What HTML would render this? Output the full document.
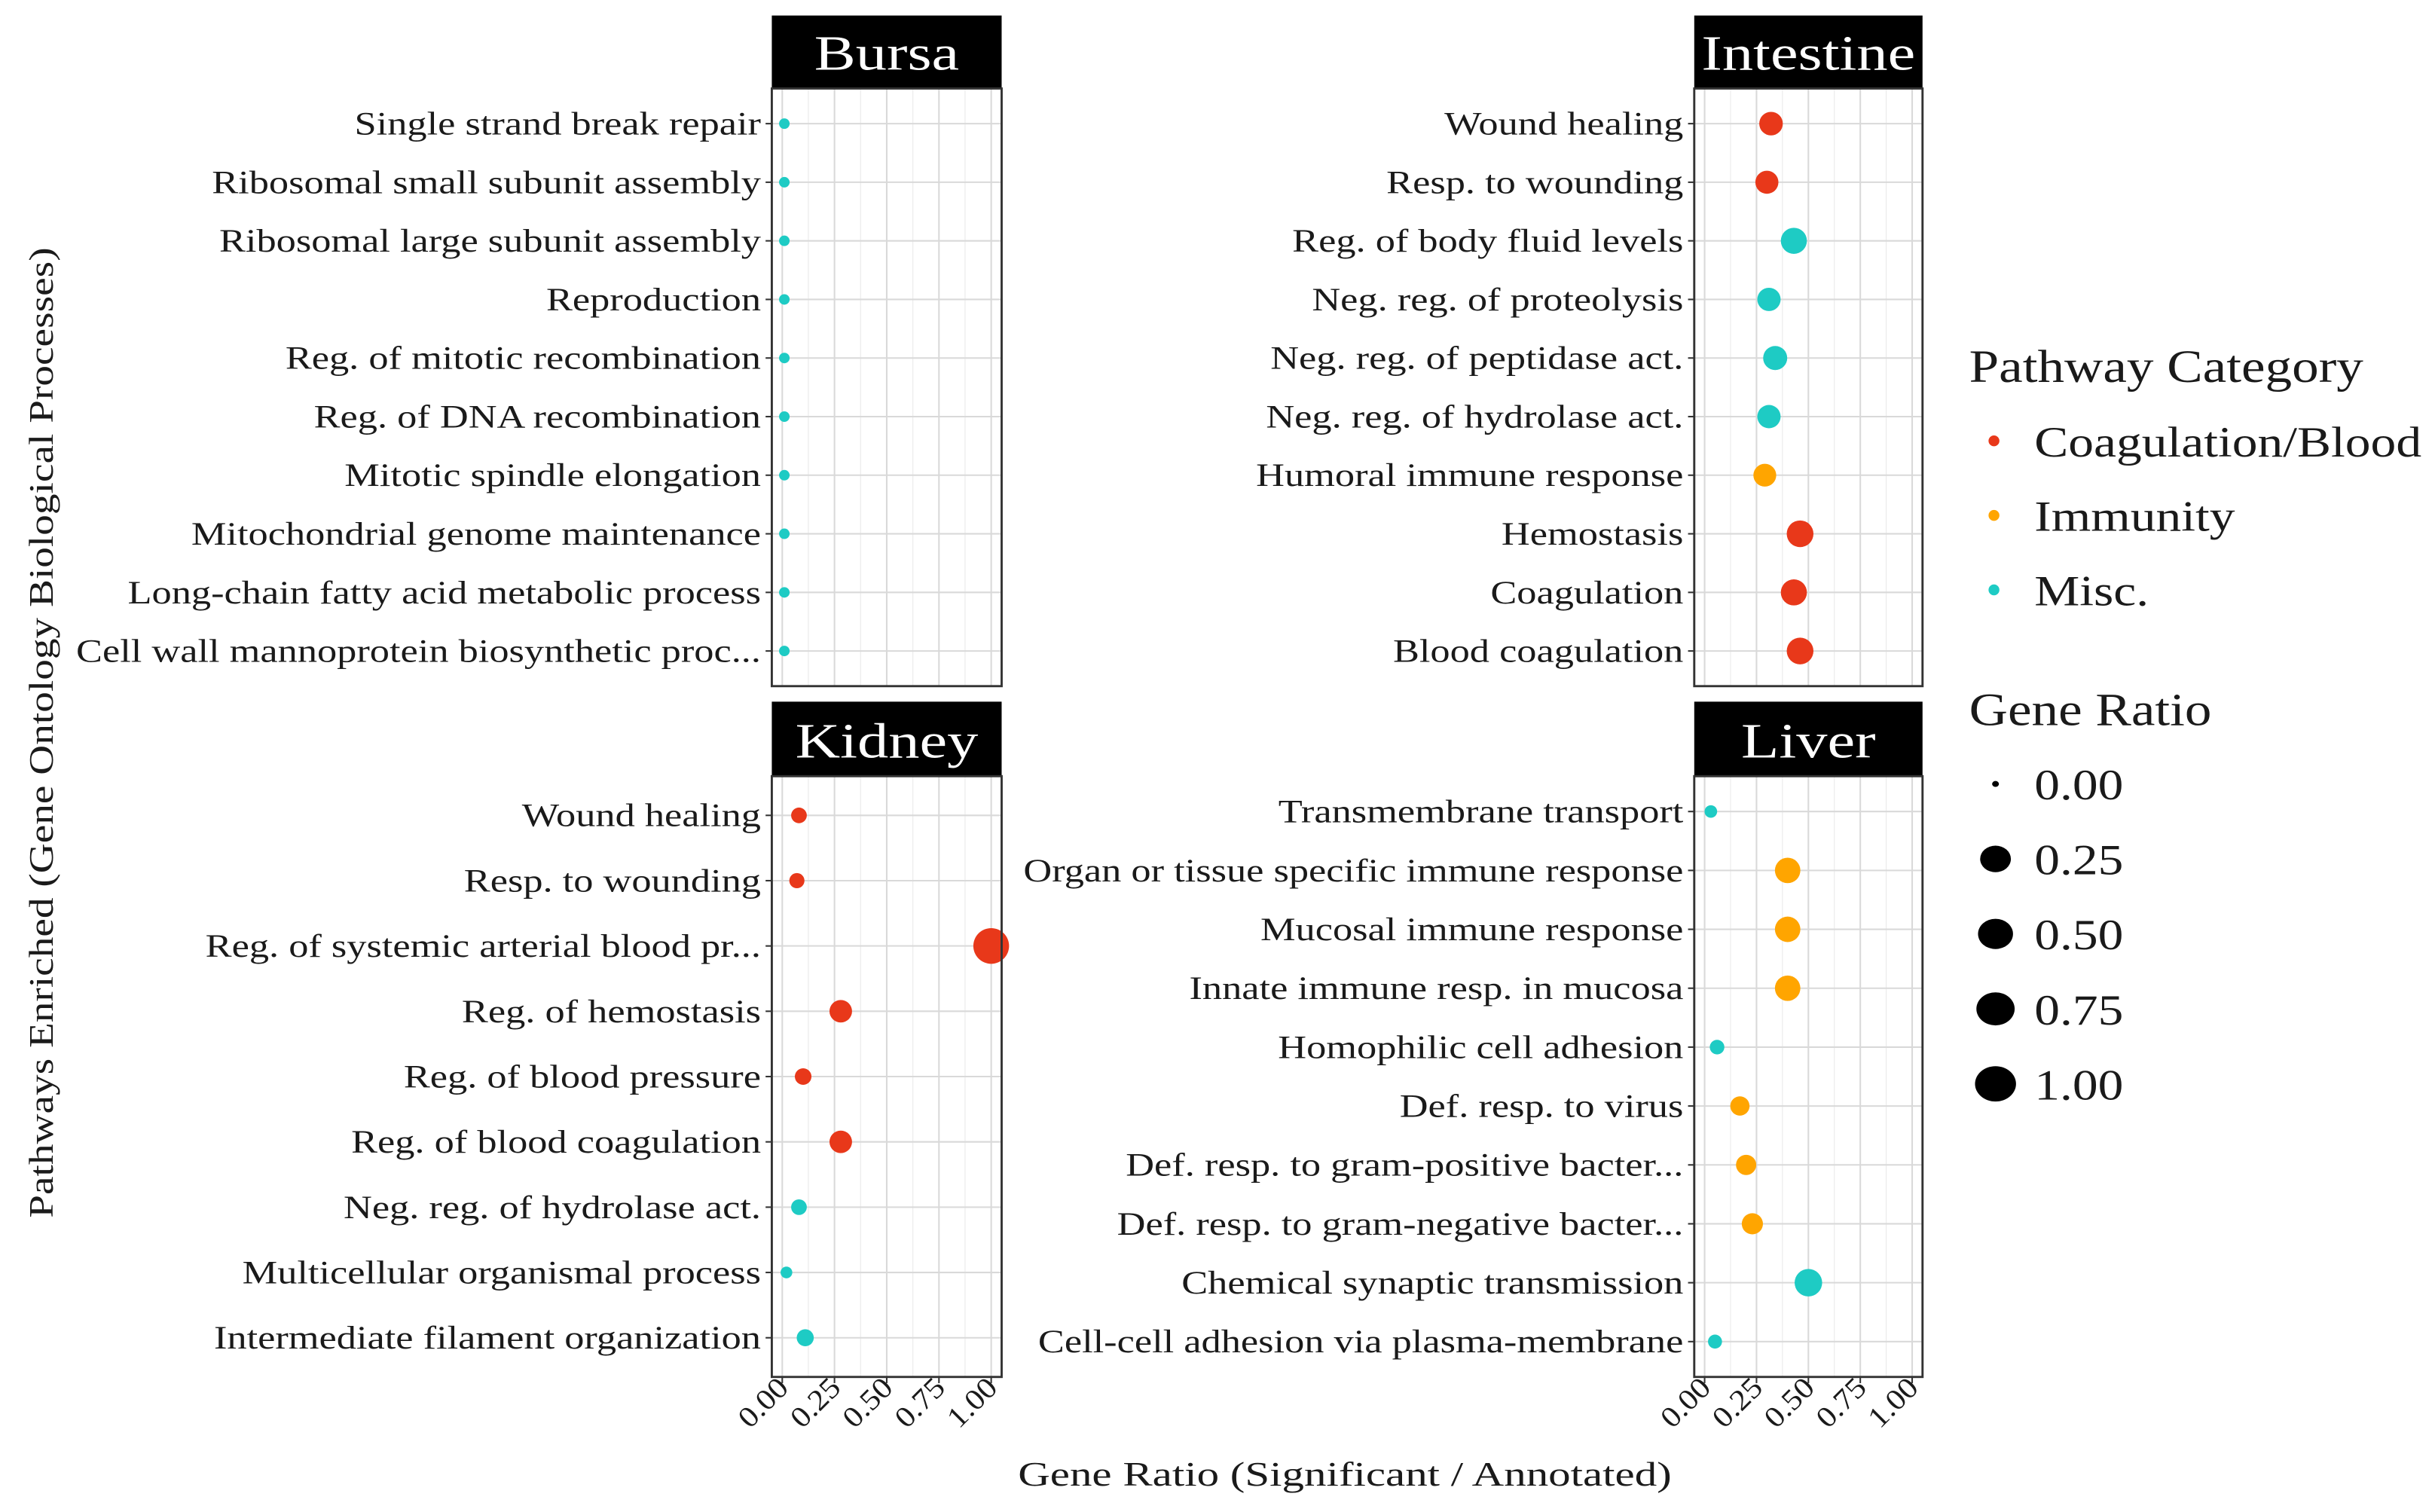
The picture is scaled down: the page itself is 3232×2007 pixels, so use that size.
<!DOCTYPE html>
<html><head><meta charset="utf-8"><style>
html,body{margin:0;padding:0;background:#fff}
svg{display:block}
text{font-family:"Liberation Serif",serif;fill:#1a1a1a}
</style></head><body>
<svg id="chart" width="3232" height="2007" viewBox="0 0 1568 974" preserveAspectRatio="none" xmlns="http://www.w3.org/2000/svg">
<g id="panels"></g>
<text transform="translate(34,472) rotate(-90) scale(1.22,1)" text-anchor="middle" font-size="22">Pathways Enriched (Gene Ontology Biological Processes)</text>
<text transform="translate(866,957) scale(1.3,1)" text-anchor="middle" font-size="22">Gene Ratio (Significant / Annotated)</text>
<g>
<text transform="translate(1268,246) scale(1.15,1)" font-size="30">Pathway Category</text>
<text transform="translate(1268,467) scale(1.15,1)" font-size="30">Gene Ratio</text>
</g>
</svg>
<script>
const COLORS = {C:"#E8381A", I:"#FFA500", M:"#1ECBC4"};
const categoryNames = ["Coagulation/Blood","Immunity","Misc."];
const categoryKeys = ["C","I","M"];
const sizeBreaks = [0,0.25,0.5,0.75,1];
const sizeLabels = ["0.00","0.25","0.50","0.75","1.00"];
const xTicks = [0,0.25,0.5,0.75,1];
const xTickLabels = ["0.00","0.25","0.50","0.75","1.00"];

const bursaLabels = ["Single strand break repair","Ribosomal small subunit assembly","Ribosomal large subunit assembly","Reproduction","Reg. of mitotic recombination","Reg. of DNA recombination","Mitotic spindle elongation","Mitochondrial genome maintenance","Long-chain fatty acid metabolic process","Cell wall mannoprotein biosynthetic proc..."];
const bursaValues = [0.01,0.01,0.01,0.01,0.01,0.01,0.01,0.01,0.01,0.01];
const bursaCats = ["M","M","M","M","M","M","M","M","M","M"];

const intestineLabels = ["Wound healing","Resp. to wounding","Reg. of body fluid levels","Neg. reg. of proteolysis","Neg. reg. of peptidase act.","Neg. reg. of hydrolase act.","Humoral immune response","Hemostasis","Coagulation","Blood coagulation"];
const intestineValues = [0.32,0.30,0.43,0.31,0.34,0.31,0.29,0.46,0.43,0.46];
const intestineCats = ["C","C","M","M","M","M","I","C","C","C"];

const kidneyLabels = ["Wound healing","Resp. to wounding","Reg. of systemic arterial blood pr...","Reg. of hemostasis","Reg. of blood pressure","Reg. of blood coagulation","Neg. reg. of hydrolase act.","Multicellular organismal process","Intermediate filament organization"];
const kidneyValues = [0.08,0.07,1.0,0.28,0.10,0.28,0.08,0.02,0.11];
const kidneyCats = ["C","C","C","C","C","C","M","M","M"];

const liverLabels = ["Transmembrane transport","Organ or tissue specific immune response","Mucosal immune response","Innate immune resp. in mucosa","Homophilic cell adhesion","Def. resp. to virus","Def. resp. to gram-positive bacter...","Def. resp. to gram-negative bacter...","Chemical synaptic transmission","Cell-cell adhesion via plasma-membrane"];
const liverValues = [0.03,0.40,0.40,0.40,0.06,0.17,0.20,0.23,0.50,0.05];
const liverCats = ["M","I","I","I","M","I","I","I","M","M"];

const NS="http://www.w3.org/2000/svg";
function mk(tag, attrs, parent){const e=document.createElementNS(NS,tag);for(const k in attrs)e.setAttribute(k,attrs[k]);parent.appendChild(e);return e;}
function rad(v){return 2.5+9*Math.sqrt(Math.max(0,v));}

const root=document.getElementById('panels');
function panel(name,x0,x1,stripTop,top,bottom,labels,values,cats,showX){
  const g=mk('g',{},root);
  
  
  const xs=v=>x0+(x1-x0)*(v+0.05)/1.1;
  const n=labels.length, step=(bottom-top)/(n-1+1.2);
  const ys=i=>top+step*(0.6+i);
  const strip=mk('rect',{x:x0,y:stripTop,width:x1-x0,height:top-stripTop,fill:'#000'},g);
  
  
  const st=mk('text',{transform:`translate(${(x0+x1)/2},${top-12}) scale(1.25,1)`,'text-anchor':'middle','font-size':32,style:'fill:#fff'},g);
  st.textContent=name.charAt(0).toUpperCase()+name.slice(1);
  
  
  for(let k=0;k<xTicks.length;k++){
    mk('line',{x1:xs(xTicks[k]),x2:xs(xTicks[k]),y1:top,y2:bottom,stroke:'#d9d9d9','stroke-width':1},g);
    if(k<xTicks.length-1){const m=(xTicks[k]+xTicks[k+1])/2;mk('line',{x1:xs(m),x2:xs(m),y1:top,y2:bottom,stroke:'#ececec','stroke-width':0.6},g);}
  }
  for(let i=0;i<n;i++){
    mk('line',{x1:x0,x2:x1,y1:ys(i),y2:ys(i),stroke:'#d9d9d9','stroke-width':1},g);
    mk('line',{x1:x0-4,x2:x0,y1:ys(i),y2:ys(i),stroke:'#333','stroke-width':1},g);
    const t=mk('text',{transform:`translate(${x0-7},${ys(i)+7}) scale(1.21,1)`,'text-anchor':'end','font-size':21},g);
    t.textContent=labels[i];
    
    
  }
  for(let i=0;i<n;i++){
    const c=mk('circle',{cx:xs(values[i]),cy:ys(i),r:rad(values[i]),fill:COLORS[cats[i]]},g);
    
    
  }
  mk('rect',{x:x0,y:top,width:x1-x0,height:bottom-top,fill:'none',stroke:'#333','stroke-width':1.4},g);
  if(showX){
    for(let k=0;k<xTicks.length;k++){
      const x=xs(xTicks[k]);
      mk('line',{x1:x,x2:x,y1:bottom,y2:bottom+4,stroke:'#333','stroke-width':1},g);
      const t=mk('text',{transform:`translate(${x+5},${bottom+8}) rotate(-45) scale(1.1,1)`,'text-anchor':'end','font-size':19},g);
      t.textContent=xTickLabels[k];
      
      
    }
  }
}
panel('bursa',497,645,10,57,442,bursaLabels,bursaValues,bursaCats,false);
panel('intestine',1091,1238,10,57,442,intestineLabels,intestineValues,intestineCats,false);
panel('kidney',497,645,452,500,887,kidneyLabels,kidneyValues,kidneyCats,true);
panel('liver',1091,1238,452,500,887,liverLabels,liverValues,liverCats,true);

const svg=document.getElementById('chart');
for(let i=0;i<categoryNames.length;i++){
  const y=284+48*i;
  const c=mk('circle',{cx:1284,cy:y,r:3.5,fill:COLORS[categoryKeys[i]]},svg);
  
  
  const t=mk('text',{transform:`translate(1310,${y+10}) scale(1.17,1)`,'font-size':28},svg);
  t.textContent=categoryNames[i];
  
  
}
for(let i=0;i<sizeBreaks.length;i++){
  const y=505+48.3*i;
  const r=sizeBreaks[i]===0?2:6+6*Math.sqrt(sizeBreaks[i]);
  const c=mk('ellipse',{cx:1285,cy:y,rx:r*1.1,ry:r*0.95,fill:'#000'},svg);
  
  
  const t=mk('text',{transform:`translate(1310,${y+10}) scale(1.17,1)`,'font-size':28},svg);
  t.textContent=sizeLabels[i];
  
  
}
</script>
</body></html>
